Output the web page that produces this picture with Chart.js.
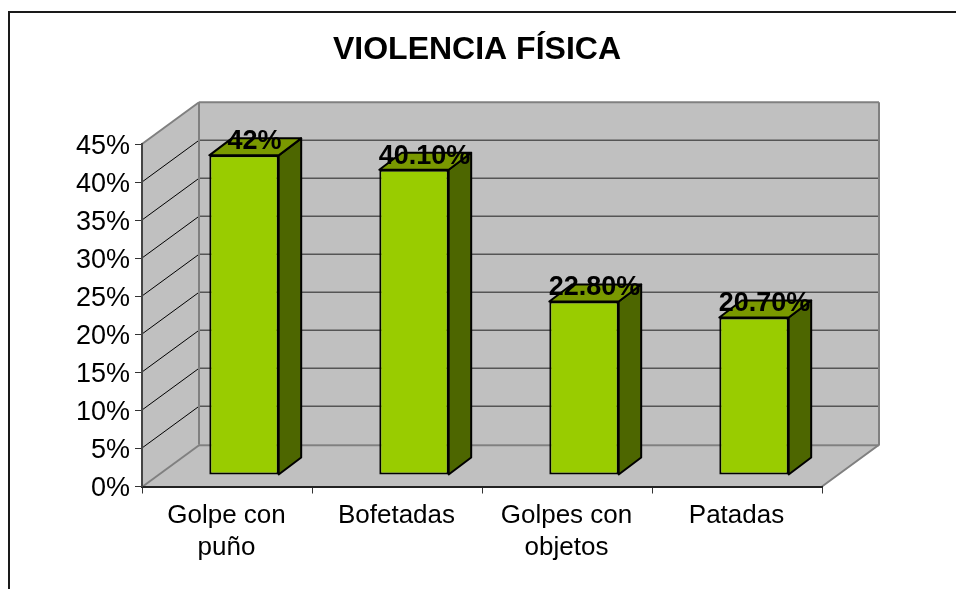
<!DOCTYPE html>
<html><head><meta charset="utf-8">
<style>html,body{margin:0;padding:0;background:#fff}canvas{display:block}</style>
<script src="https://cdn.jsdelivr.net/npm/chart.js@4"></script></head>
<body><canvas id="c" width="956" height="589"></canvas>
<script>
const categories = [['Golpe con','puño'],'Bofetadas',['Golpes con','objetos'],'Patadas'];
const values = [42, 40.1, 22.8, 20.7];
const valueLabels = ['42%','40.10%','22.80%','20.70%'];
const titleText = 'VIOLENCIA FÍSICA';
const FONT = '"Liberation Sans", Arial, sans-serif';
const wallDepth = {x:57, y:-41.7};
const barShift = {x:17, y:-11.5};
const barDepth = {x:22.5, y:-17};
const poly = (ctx, pts, fill, stroke, lw) => {
  ctx.beginPath();
  pts.forEach((p,i)=> i?ctx.lineTo(p[0],p[1]):ctx.moveTo(p[0],p[1]));
  ctx.closePath();
  if(fill){ctx.fillStyle=fill;ctx.fill();}
  if(stroke){ctx.strokeStyle=stroke;ctx.lineWidth=lw;ctx.lineJoin='round';ctx.stroke();}
};
const scene = {
  id:'scene',
  beforeDraw(chart){
    const {ctx,chartArea:a,scales:{y}} = chart;
    const d = wallDepth;
    ctx.save();
    ctx.strokeStyle='#1a1a1a';ctx.lineWidth=2;
    ctx.beginPath();ctx.moveTo(9,589);ctx.lineTo(9,12);ctx.lineTo(956,12);ctx.stroke();
    ctx.font='bold 32px '+FONT;ctx.fillStyle='#000';ctx.textAlign='center';ctx.textBaseline='middle';
    ctx.fillText(titleText,477,50.5);
    const G='#808080';
    poly(ctx,[[a.left+d.x,a.top+d.y],[a.right+d.x,a.top+d.y],[a.right+d.x,a.bottom+d.y],[a.left+d.x,a.bottom+d.y]],'#c0c0c0',null);
    poly(ctx,[[a.left,a.top],[a.left+d.x,a.top+d.y],[a.left+d.x,a.bottom+d.y],[a.left,a.bottom]],'#c0c0c0',null);
    poly(ctx,[[a.left,a.bottom],[a.left+d.x,a.bottom+d.y],[a.right+d.x,a.bottom+d.y],[a.right,a.bottom]],'#c0c0c0',null);
    y.ticks.forEach(t=>{
      const py=Math.round(y.getPixelForValue(t.value));
      const edge=(t.value===y.min||t.value===y.max);
      ctx.lineWidth=edge?2:1;
      ctx.strokeStyle=edge?G:'#000';
      ctx.beginPath();ctx.moveTo(a.left,py);ctx.lineTo(a.left+d.x,py+d.y);ctx.stroke();
      ctx.strokeStyle=edge?G:'#555';
      ctx.lineWidth=edge?2:1.5;
      ctx.beginPath();ctx.moveTo(a.left+d.x,py+d.y);ctx.lineTo(a.right+d.x,py+d.y);ctx.stroke();
    });
    ctx.strokeStyle=G;ctx.lineWidth=2;
    ctx.beginPath();ctx.moveTo(a.left+d.x,a.top+d.y);ctx.lineTo(a.left+d.x,a.bottom+d.y);ctx.stroke();
    ctx.beginPath();ctx.moveTo(a.right+d.x,a.top+d.y);ctx.lineTo(a.right+d.x,a.bottom+d.y);ctx.lineTo(a.right,a.bottom);ctx.stroke();
    ctx.restore();
  },
  beforeDatasetsDraw(chart){
    const {ctx} = chart;
    const m = chart.getDatasetMeta(0);
    ctx.save();
    ctx.translate(barShift.x,barShift.y);
    m.data.forEach(b=>{
      const r=b.x+b.width/2,l=b.x-b.width/2,t=b.y,bt=b.base,dx=barDepth.x,dy=barDepth.y;
      poly(ctx,[[r,t],[r+dx,t+dy],[r+dx,bt+dy],[r,bt]],'#4d6600','#000',2);
      poly(ctx,[[l,t],[l+dx,t+dy],[r+dx,t+dy],[r,t]],'#7a9900','#000',2);
    });
  },
  afterDatasetsDraw(chart){
    const {ctx} = chart;
    ctx.restore();
    const m = chart.getDatasetMeta(0);
    ctx.save();
    ctx.font='bold 27px '+FONT;ctx.fillStyle='#000';ctx.textAlign='center';ctx.textBaseline='middle';
    m.data.forEach((b,i)=>{
      ctx.fillText(valueLabels[i],b.x+barShift.x+10.5,b.y+barShift.y-13.5);
    });
    ctx.restore();
  }
};
new Chart(document.getElementById('c'),{
  type:'bar',
  data:{labels:categories,datasets:[{data:values,backgroundColor:'#99cc00',borderColor:'#000',borderWidth:2,borderSkipped:false,barPercentage:0.408,categoryPercentage:1}]},
  plugins:[scene],
  options:{
    responsive:false,animation:false,
    layout:{padding:{left:0,right:134,top:144,bottom:0}},
    plugins:{legend:{display:false},tooltip:{enabled:false},title:{display:false}},
    scales:{
      x:{afterFit(s){s.height=102.5;},
         grid:{display:true,drawOnChartArea:false,drawTicks:true,tickLength:7,color:'#333'},
         border:{display:true,color:'#222',width:2},
         ticks:{color:'#000',font:{family:FONT,size:26,lineHeight:1.23},padding:6,labelOffset:-0.5,maxRotation:0,autoSkip:false}},
      y:{min:0,max:45,afterFit(s){s.width=142;},
         grid:{display:true,drawOnChartArea:false,drawTicks:true,tickLength:7,color:'#333'},
         border:{display:true,color:'#444',width:2},
         ticks:{stepSize:5,color:'#000',font:{family:FONT,size:27},padding:5,labelOffset:2.5,callback:v=>v+'%'}}
    }
  }
});
</script></body></html>
